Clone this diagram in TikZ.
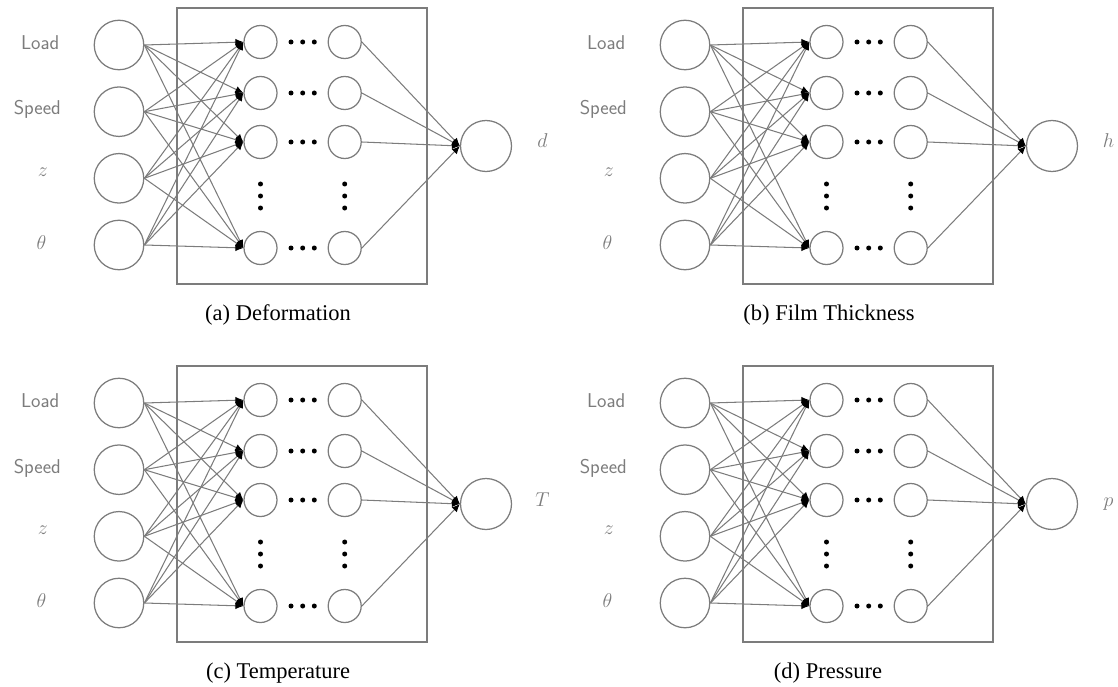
\RequirePackage{fix-cm}
\documentclass[tikz,border=0pt]{standalone}
\usepackage{fontspec}
\newfontfamily\capfont{Liberation Serif}
\usetikzlibrary{arrows.meta}

\definecolor{netgray}{HTML}{7C7C7C}

\tikzset{
  neuron/.style={circle,draw=netgray,line width=1.25pt,inner sep=0pt},
  inneuron/.style={neuron,minimum size=49.5pt},
  hneuron/.style={neuron,minimum size=33pt},
  outneuron/.style={neuron,minimum size=51pt},
  conn/.style={draw=netgray,line width=1.05pt,-{Latex[length=8pt,width=7pt,black]}},
  hidbox/.style={draw=netgray,line width=1.3pt,minimum width=250pt,minimum height=276pt,inner sep=0pt},
  inlabel/.style={text=netgray,font=\fontsize{20}{24}\selectfont,inner sep=0pt},
  subcap/.style={font=\capfont\fontsize{22.5}{27}\selectfont,anchor=base,inner sep=0pt}
}

% #1 shift, #2 prefix, #3 output, #4 caption, #5 caption x
\newcommand{\netpanel}[5]{%
  \begin{scope}[shift={(#1)}]
    \node[hidbox] (#2box) at (302,146) {};
    \foreach \i/\y in {1/45,2/111.7,3/178.3,4/245}
      \node[inneuron] (#2in\i) at (119,\y) {};
    \foreach \i/\y in {1/42,2/93,3/142,4/248} {
      \node[hneuron] (#2ha\i) at (260.5,\y) {};
      \node[hneuron] (#2hb\i) at (344.7,\y) {};
      \foreach \x in {291,302.7,314.3}
        \fill (\x,\y) circle (2.5pt);
    }
    \foreach \x in {260.5,344.7}
      \foreach \y in {184,196,208}
        \fill (\x,\y) circle (2.5pt);
    \node[outneuron] (#2out) at (486,146) {};
    % labels
    \node[inlabel,anchor=base east] (#2load) at (59.5,49.5) {\sffamily Load};
    \node[inlabel,anchor=base east] (#2speed) at (61,115) {\sffamily Speed};
    \node[inlabel,anchor=base] (#2z) at (42.8,176.7) {$z$};
    \node[inlabel,anchor=base] (#2theta) at (41.4,249) {$\theta$};
    \node[inlabel,anchor=base] (#2res) at (542.5,148) {$#3$};
    % connections
    \foreach \i in {1,...,4}
      \foreach \j in {1,...,4}
        \draw[conn] (#2in\i.east) -- (#2ha\j.west);
    \foreach \j in {1,...,4}
      \draw[conn] (#2hb\j.east) -- (#2out.west);
    \node[subcap] (#2cap) at (#5,320.5) {#4};
  \end{scope}}

\begin{document}
\begin{tikzpicture}[x=1pt,y=-1pt]
  \useasboundingbox (0,0) rectangle (1118,687);
  \netpanel{0,0}{a}{d}{(a) Deformation}{278}
  \netpanel{566,0}{b}{h}{(b) Film Thickness}{263}
  \netpanel{0,358}{c}{T}{(c) Temperature}{278}
  \netpanel{566,358}{d}{p}{(d) Pressure}{262}
\end{tikzpicture}
\end{document}
